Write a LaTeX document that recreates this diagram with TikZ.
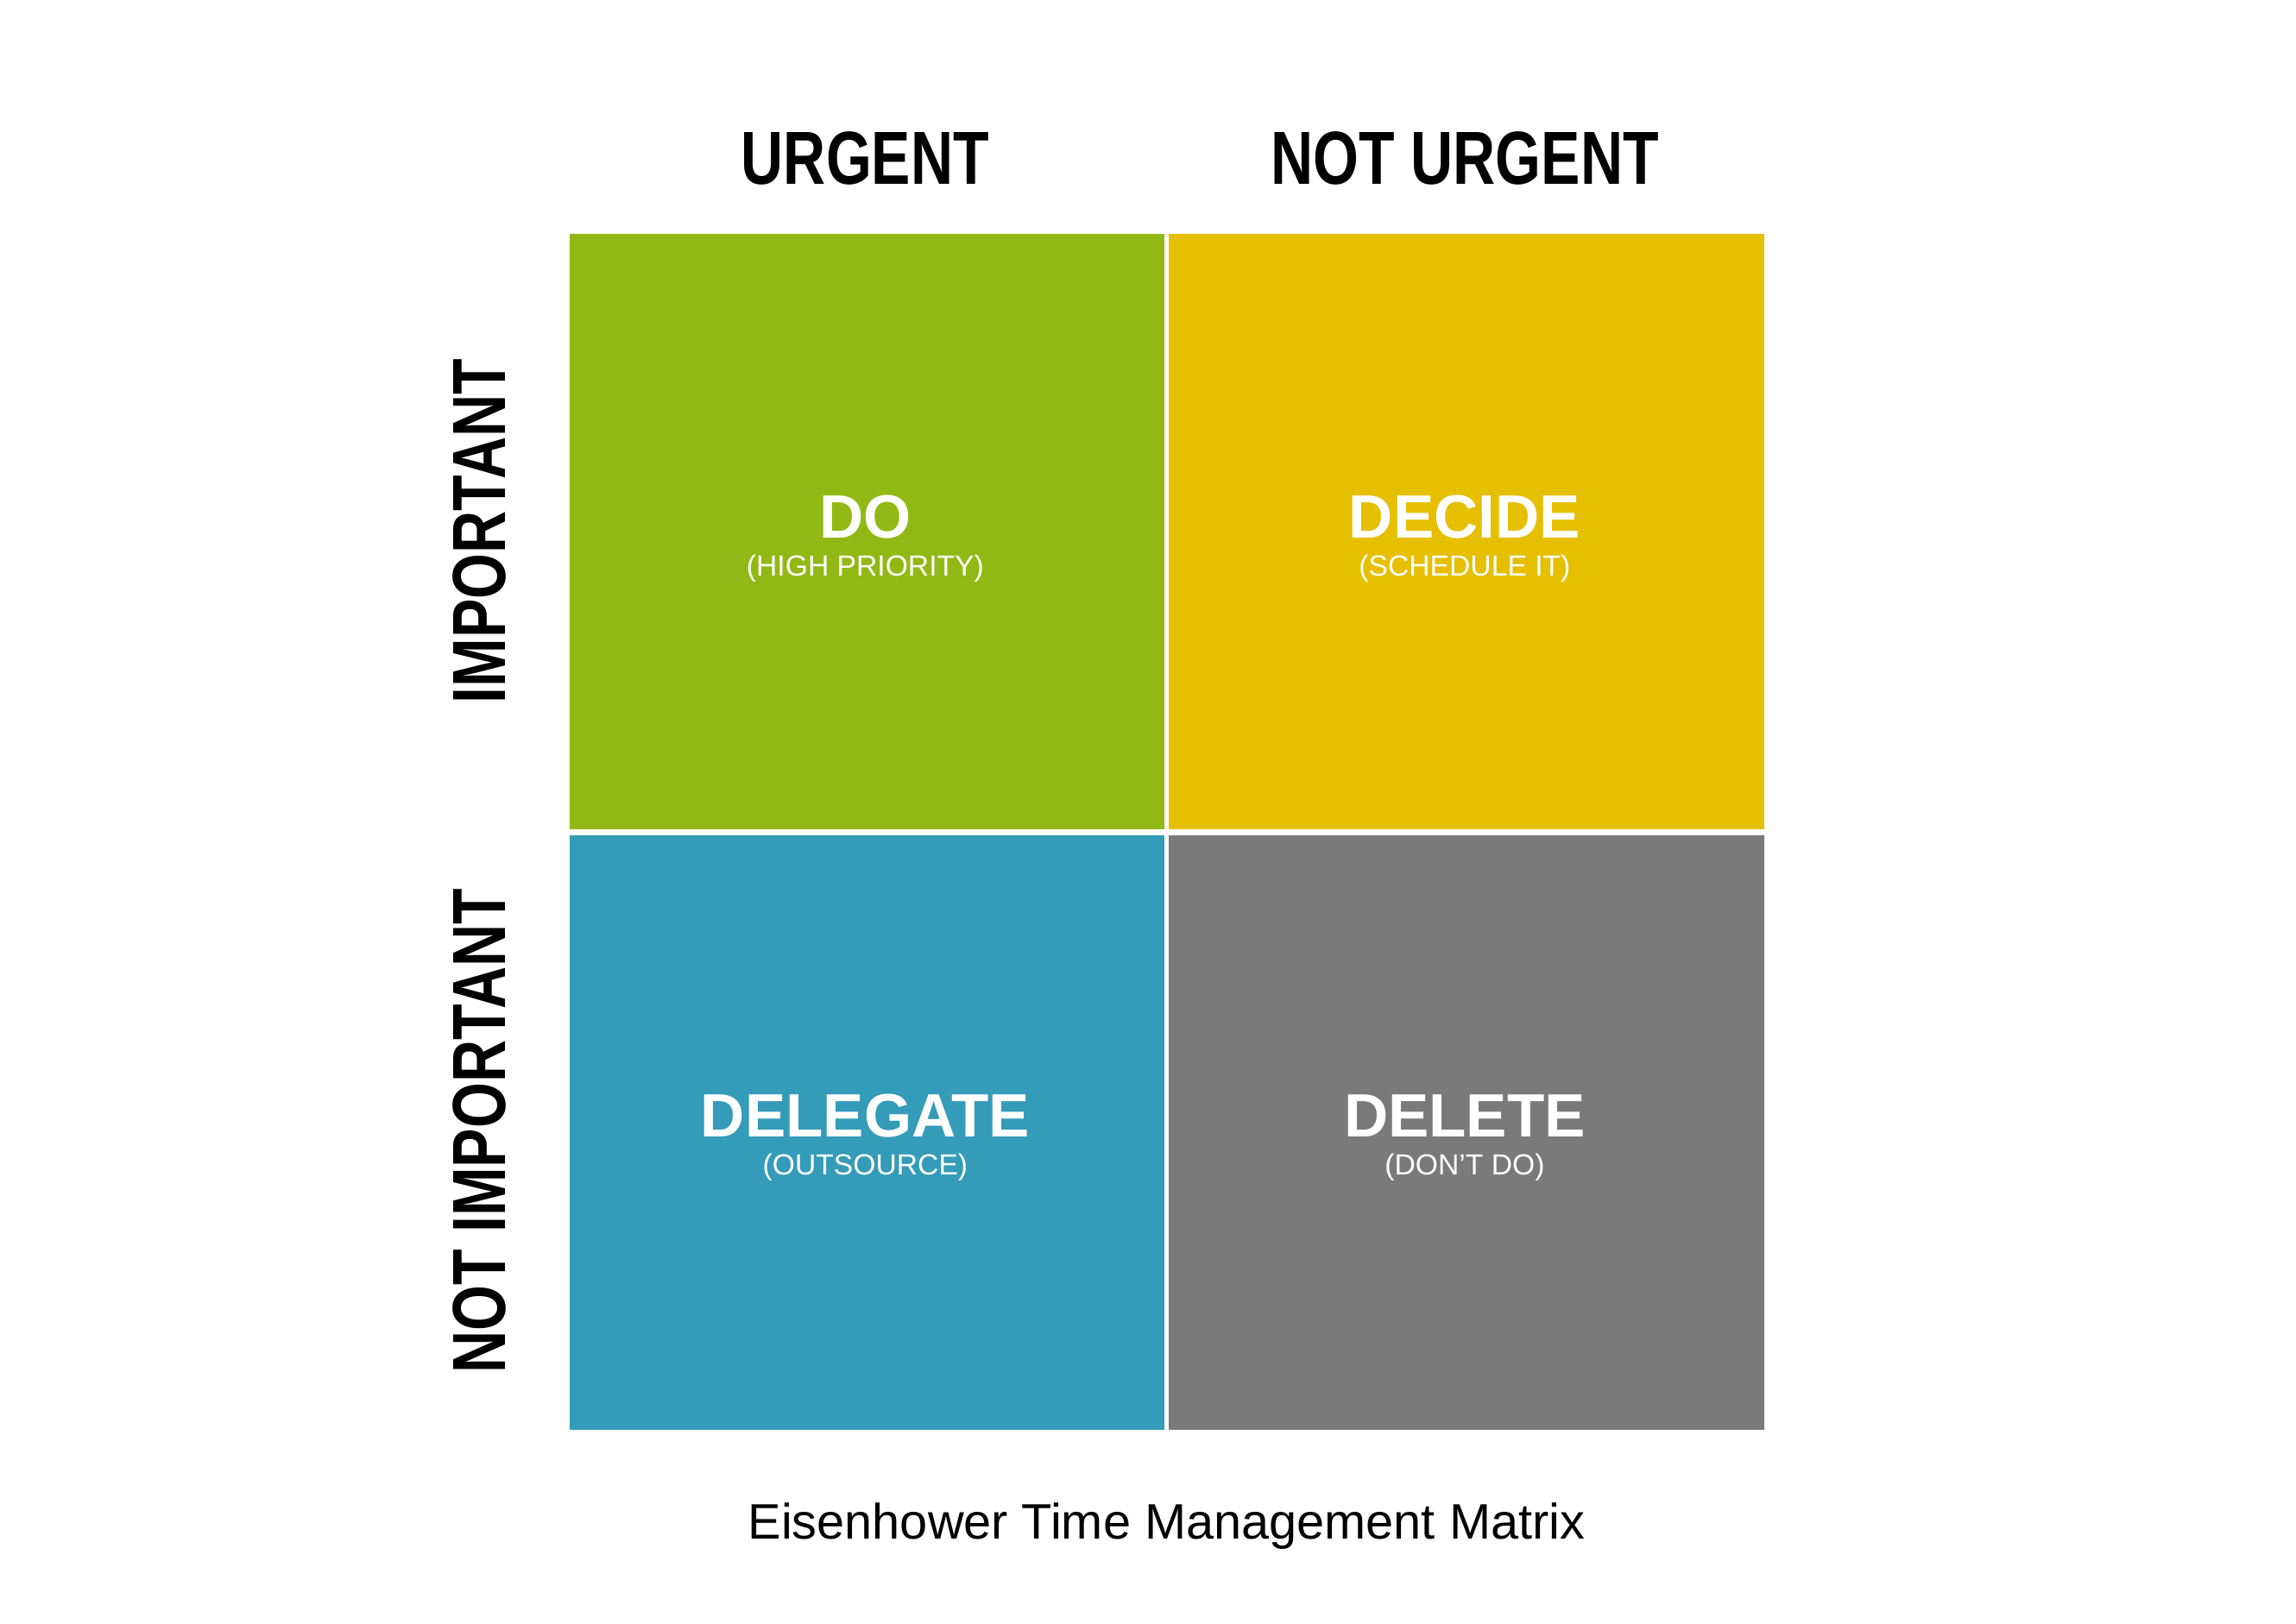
\documentclass[tikz,border=0pt]{standalone}
\usepackage{fontspec}
\setmainfont{Liberation Sans}
\newfontfamily\condbold[FakeStretch=0.78]{Liberation Sans Bold}
\begin{document}
\begin{tikzpicture}[x=0.1mm,y=-0.1mm,
  quad/.style={draw=none,minimum width=403*0.1mm,minimum height=403*0.1mm,inner sep=0,anchor=north west},
  title/.style={text=white,font=\bfseries\fontsize{11.8}{13}\selectfont},
  sub/.style={text=white,font=\fontsize{5.6}{6.5}\selectfont},
  head/.style={font=\condbold\fontsize{14.5}{16}\selectfont}]
\definecolor{cg}{HTML}{91B915}
\definecolor{cy}{HTML}{E5BF00}
\definecolor{cb}{HTML}{349BB8}
\definecolor{cd}{HTML}{7A7A7A}
\useasboundingbox[fill=white] (0,0) rectangle (1555,1100);
\node[quad,fill=cg] (q1) at (385,158) {};
\node[quad,fill=cy] (q2) at (791,158) {};
\node[quad,fill=cb] (q3) at (385,565) {};
\node[quad,fill=cd] (q4) at (791,565) {};
\node[title] (t1) at (586,350) {DO};
\node[sub] (s1) at (586,385) {(HIGH PRIORITY)};
\node[title] (t2) at (992,350) {DECIDE};
\node[sub] (s2) at (992,385) {(SCHEDULE IT)};
\node[title] (t3) at (586,756) {DELEGATE};
\node[sub] (s3) at (586,791) {(OUTSOURCE)};
\node[title] (t4) at (992,756) {DELETE};
\node[sub] (s4) at (992,791) {(DON’T DO)};
\node[head] (h1) at (586,107) {URGENT};
\node[head] (h2) at (992,107) {NOT URGENT};
\node[head,rotate=90] (v1) at (325,360) {IMPORTANT};
\node[head,rotate=90] (v2) at (325,766) {NOT IMPORTANT};
\node[font=\fontsize{9.6}{11}\selectfont] (cap) at (790,1034) {Eisenhower Time Management Matrix};
\end{tikzpicture}
\end{document}
